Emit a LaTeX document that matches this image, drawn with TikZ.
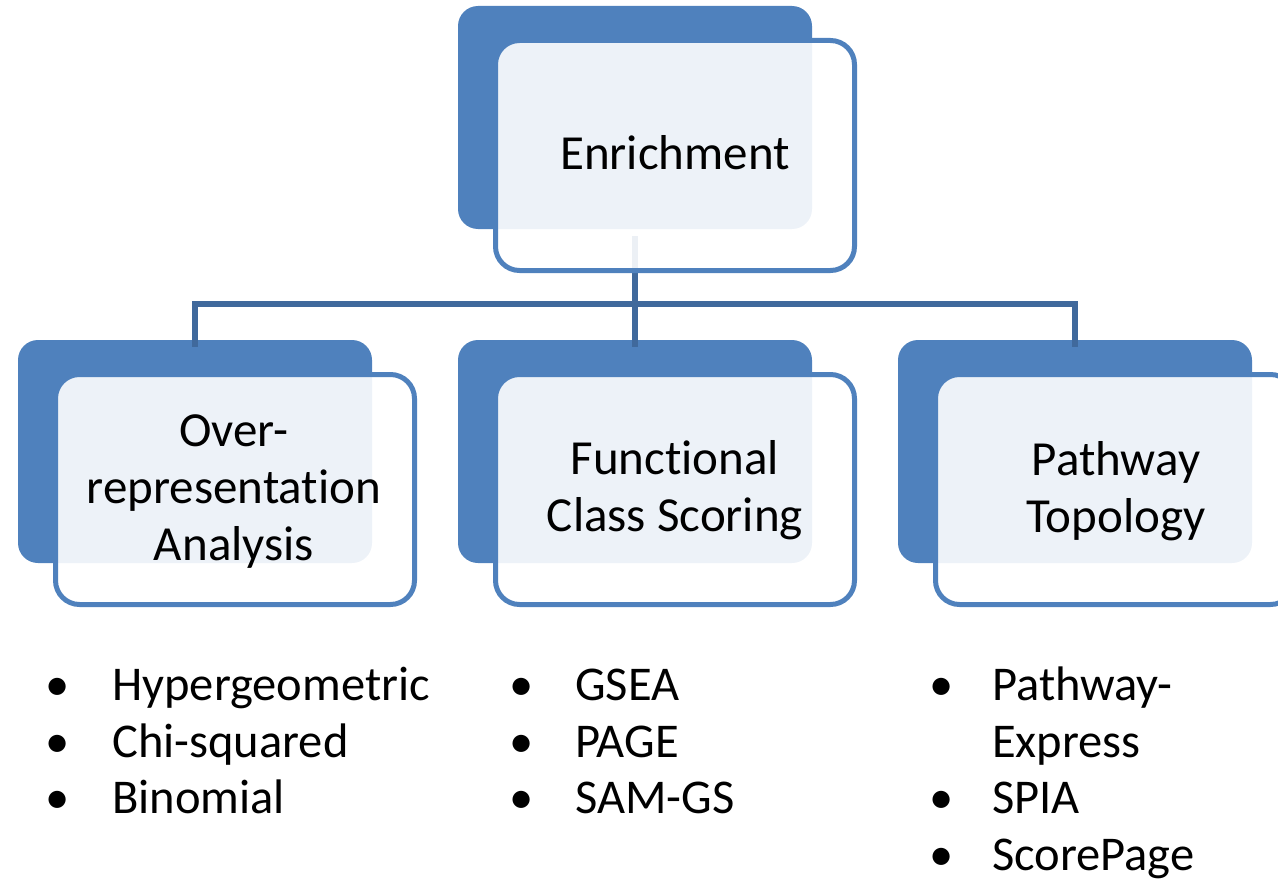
\documentclass[tikz,border=0pt]{standalone}
\usepackage{fontspec}
\setmainfont[Ligatures=NoCommon]{Carlito}
\definecolor{accent}{HTML}{4F81BD}
\definecolor{connc}{HTML}{40699C}
\tikzset{
  darkbox/.style={fill=accent, draw=none, rounded corners=20pt, inner sep=0pt,
    minimum width=354pt, minimum height=223pt},
  frontbox/.style={draw=accent, line width=5pt, fill=white, fill opacity=0.9,
    rounded corners=24pt, inner sep=0pt, minimum width=359pt, minimum height=230pt},
  conn/.style={draw=connc, line width=6pt},
  lbl/.style={font=\fontsize{49}{57}\selectfont, align=center, anchor=base, inner sep=0pt, text=black},
  item/.style={font=\fontsize{48.5}{57}\selectfont, align=left, anchor=base west, inner sep=0pt, text=black},
  bul/.style={font=\fontsize{48.5}{57}\selectfont, anchor=base, inner sep=0pt, text=black},
}
\begin{document}
\begin{tikzpicture}[x=1pt,y=-1pt]
\useasboundingbox (0,0) rectangle (1278,883);
\clip (0,0) rectangle (1278,883);
% back boxes
\node[darkbox] (topd) at (635,117.5) {};
\node[darkbox] (leftd) at (195,451.5) {};
\node[darkbox] (midd) at (635,451.5) {};
\node[darkbox] (rightd) at (1075,451.5) {};
% connectors
\coordinate (hub) at (635,304);
\draw[conn] ([yshift=-7pt]topd.south) -- ([yshift=-7pt]midd.north);
\draw[conn] ([yshift=-7pt]leftd.north) |- (hub) -| ([yshift=-7pt]rightd.north);
% front boxes
\node[frontbox] (topf) at (675,155.5) {};
\node[frontbox] (leftf) at (235,489.5) {};
\node[frontbox] (midf) at (675,489.5) {};
\node[frontbox] (rightf) at (1115,489.5) {};
% labels (base anchor = baseline of last line)
\node[lbl] (t0) at (675,169) {Enrichment};
\node[lbl] (t1) at (234,560) {Over-\\representation\\Analysis};
\node[lbl] (t2) at (675,531) {Functional\\Class Scoring};
\node[lbl] (t3) at (1116,532) {Pathway\\Topology};
% lists
\node[bul] (b11) at (58,700) {•};
\node[bul] (b12) at (58,757) {•};
\node[bul] (b13) at (58,813) {•};
\node[item] (i11) at (112,700) {Hypergeometric};
\node[item] (i12) at (112,757) {Chi-squared};
\node[item] (i13) at (112,813) {Binomial};
\node[bul] (b21) at (522,700) {•};
\node[bul] (b22) at (522,757) {•};
\node[bul] (b23) at (522,813) {•};
\node[item] (i21) at (575,700) {GSEA};
\node[item] (i22) at (575,757) {PAGE};
\node[item] (i23) at (575,813) {SAM-GS};
\node[bul] (b31) at (942,700) {•};
\node[bul] (b32) at (942,813) {•};
\node[bul] (b33) at (942,870) {•};
\node[item] (i31) at (992,757) {Pathway-\\Express};
\node[item] (i32) at (992,813) {SPIA};
\node[item] (i33) at (992,870) {ScorePage};
\end{tikzpicture}
\end{document}
